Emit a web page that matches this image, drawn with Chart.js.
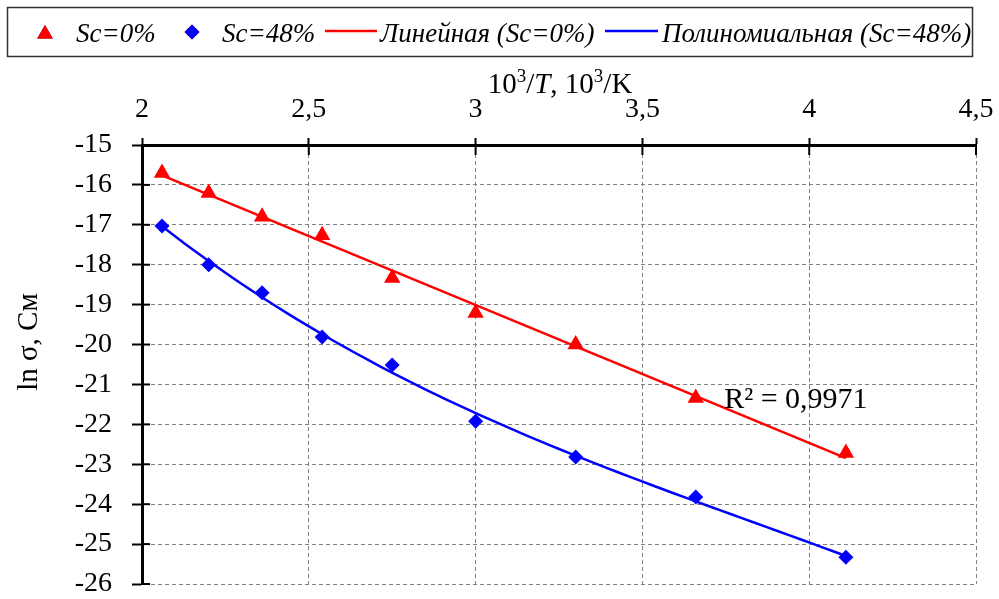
<!DOCTYPE html>
<html>
<head>
<meta charset="utf-8">
<script src="https://cdn.jsdelivr.net/npm/chart.js@4/dist/chart.umd.min.js"></script>
<style>
  body { margin: 0; background: #fff; overflow: hidden; }
  #wrap { position: relative; width: 999px; height: 599px; }
  canvas { display: block; }
</style>
</head>
<body>
<div id="wrap"><canvas id="chart" width="999" height="599"></canvas></div>
<script>
// 10^3/T values, 10^3/K
const invT = [2.06, 2.20, 2.36, 2.54, 2.75, 3.00, 3.30, 3.66, 4.11];
// ln sigma
const lnSigmaSc0 = [-15.7, -16.2, -16.8, -17.26, -18.33, -19.21, -20.0, -21.34, -22.72];
const lnSigmaSc48 = [-17.03, -18.0, -18.7, -19.81, -20.51, -21.92, -22.82, -23.82, -25.33];
const xTicks = [2, 2.5, 3, 3.5, 4, 4.5];
const yTicks = [-15, -16, -17, -18, -19, -20, -21, -22, -23, -24, -25, -26];
const legendLabels = ["Sc=0%", "Sc=48%", "Линейная (Sc=0%)", "Полиномиальная (Sc=48%)"];
const r2Label = "R² = 0,9971";
const polyOrder = 3;

const SERIF = '"Liberation Serif", "Times New Roman", serif';

// least squares polynomial fit (order 1 = linear trendline)
function polyFit(xs, ys, order) {
  const m = order + 1;
  const A = [];
  for (let r = 0; r < m; r++) {
    const row = [];
    for (let c = 0; c < m; c++) row.push(xs.reduce((s, x) => s + Math.pow(x, r + c), 0));
    row.push(xs.reduce((s, x, i) => s + ys[i] * Math.pow(x, r), 0));
    A.push(row);
  }
  for (let c = 0; c < m; c++) {
    for (let r = c + 1; r < m; r++) {
      const f = A[r][c] / A[c][c];
      for (let k = c; k <= m; k++) A[r][k] -= f * A[c][k];
    }
  }
  const p = new Array(m).fill(0);
  for (let r = m - 1; r >= 0; r--) {
    let s = A[r][m];
    for (let k = r + 1; k < m; k++) s -= A[r][k] * p[k];
    p[r] = s / A[r][r];
  }
  return x => p.reduce((s, c, k) => s + c * Math.pow(x, k), 0);
}

const linF = polyFit(invT, lnSigmaSc0, 1);
const polyF = polyFit(invT, lnSigmaSc48, polyOrder);
const xMin = Math.min(...invT), xMax = Math.max(...invT);
const linLine = [xMin, xMax].map(x => ({ x, y: linF(x) }));
const polyLine = [];
for (let i = 0; i <= 60; i++) {
  const x = xMin + (xMax - xMin) * i / 60;
  polyLine.push({ x, y: polyF(x) });
}

const comma = v => String(v).replace('.', ',');

const extras = {
  id: 'extras',
  afterDraw(chart) {
    const { ctx, chartArea, scales } = chart;
    ctx.save();
    // inner halves of the crossing tick marks
    ctx.strokeStyle = '#000';
    ctx.lineWidth = 2;
    xTicks.forEach(v => {
      const px = scales.x.getPixelForValue(v);
      ctx.beginPath(); ctx.moveTo(px, chartArea.top); ctx.lineTo(px, chartArea.top + 10); ctx.stroke();
    });
    yTicks.forEach(v => {
      const py = scales.y.getPixelForValue(v);
      ctx.beginPath(); ctx.moveTo(chartArea.left, py); ctx.lineTo(chartArea.left + 8, py); ctx.stroke();
    });

    // x axis title: 10³/T, 10³/K
    ctx.fillStyle = '#000';
    ctx.textBaseline = 'alphabetic';
    ctx.textAlign = 'left';
    const parts = [
      ['10', 'normal 29px', 0], ['3', 'normal 19px', -11], ['/', 'normal 29px', 0],
      ['T', 'italic 29px', 0], [', 10', 'normal 29px', 0], ['3', 'normal 19px', -11],
      ['/K', 'normal 29px', 0]
    ];
    let w = 0;
    parts.forEach(p => { ctx.font = p[1] + ' ' + SERIF; w += ctx.measureText(p[0]).width; });
    let tx = 560 - w / 2;
    parts.forEach(p => {
      ctx.font = p[1] + ' ' + SERIF;
      ctx.fillText(p[0], tx, 93 + p[2]);
      tx += ctx.measureText(p[0]).width;
    });

    // y axis title
    ctx.save();
    ctx.translate(37, 342);
    ctx.rotate(-Math.PI / 2);
    ctx.textAlign = 'center';
    ctx.font = 'normal 29px ' + SERIF;
    ctx.fillText('ln σ, См', 0, 0);
    ctx.restore();

    // R² label next to the linear trendline
    ctx.font = 'normal 30px ' + SERIF;
    ctx.fillText(r2Label, scales.x.getPixelForValue(3.745), scales.y.getPixelForValue(-21.58));

    // legend box
    ctx.strokeStyle = '#333';
    ctx.lineWidth = 1.5;
    ctx.strokeRect(7.5, 7.5, 965, 49);
    ctx.beginPath();
    Chart.helpers.drawPoint(ctx, { pointStyle: 'triangle', radius: 9, rotation: 0, borderWidth: 0 }, 45, 34);
    ctx.fillStyle = '#ff0000'; ctx.fill();
    ctx.beginPath();
    Chart.helpers.drawPoint(ctx, { pointStyle: 'rectRot', radius: 7.5, rotation: 0, borderWidth: 0 }, 192, 32);
    ctx.fillStyle = '#0000ff'; ctx.fill();
    ctx.lineWidth = 2.5;
    ctx.strokeStyle = '#ff0000';
    ctx.beginPath(); ctx.moveTo(325, 31); ctx.lineTo(377, 31); ctx.stroke();
    ctx.strokeStyle = '#0000ff';
    ctx.beginPath(); ctx.moveTo(605, 31); ctx.lineTo(658, 31); ctx.stroke();
    ctx.fillStyle = '#000';
    ctx.font = 'italic 27px ' + SERIF;
    const lx = [76, 222, 380, 662];
    legendLabels.forEach((t, i) => ctx.fillText(t, lx[i], 42));
    ctx.restore();
  }
};

new Chart(document.getElementById('chart'), {
  type: 'scatter',
  data: {
    datasets: [
      {
        label: legendLabels[0],
        data: invT.map((x, i) => ({ x, y: lnSigmaSc0[i] })),
        pointStyle: 'triangle', pointRadius: 9.5, backgroundColor: '#ff0000', borderColor: '#ff0000',
        borderWidth: 0, order: 0
      },
      {
        label: legendLabels[1],
        data: invT.map((x, i) => ({ x, y: lnSigmaSc48[i] })),
        pointStyle: 'rectRot', pointRadius: 7.5, backgroundColor: '#0000ff', borderColor: '#0000ff',
        borderWidth: 0, order: 0
      },
      {
        label: legendLabels[2], data: linLine, showLine: true, pointRadius: 0,
        borderColor: '#ff0000', borderWidth: 2.5, order: 1
      },
      {
        label: legendLabels[3], data: polyLine, showLine: true, pointRadius: 0,
        borderColor: '#0000ff', borderWidth: 2.5, order: 1
      }
    ]
  },
  options: {
    responsive: false,
    animation: false,
    layout: { autoPadding: false, padding: { left: 0, right: 23, top: 0, bottom: 15 } },
    plugins: { legend: { display: false }, tooltip: { enabled: false } },
    scales: {
      x: {
        type: 'linear', position: 'top', min: 2, max: 4.5,
        afterBuildTicks: s => { s.ticks = xTicks.map(v => ({ value: v })); },
        afterFit: s => { s.height = 145; s.paddingLeft = 0; s.paddingRight = 0; },
        ticks: { callback: comma, color: '#000', padding: 12, font: { family: SERIF, size: 28 } },
        grid: { color: '#808080', lineWidth: 1, tickLength: 7, tickColor: '#000', tickWidth: 2 },
        border: { color: '#000', width: 3, dash: [4, 3] }
      },
      y: {
        type: 'linear', min: -26, max: -15,
        afterBuildTicks: s => { s.ticks = yTicks.map(v => ({ value: v })); },
        afterFit: s => { s.width = 142; s.paddingTop = 0; s.paddingBottom = 0; },
        ticks: { color: '#000', padding: 20, font: { family: SERIF, size: 28 } },
        grid: { color: '#808080', lineWidth: 1, tickLength: 10, tickColor: '#000', tickWidth: 2 },
        border: { color: '#000', width: 3, dash: [4, 3] }
      }
    }
  },
  plugins: [extras]
});
</script>
</body>
</html>
